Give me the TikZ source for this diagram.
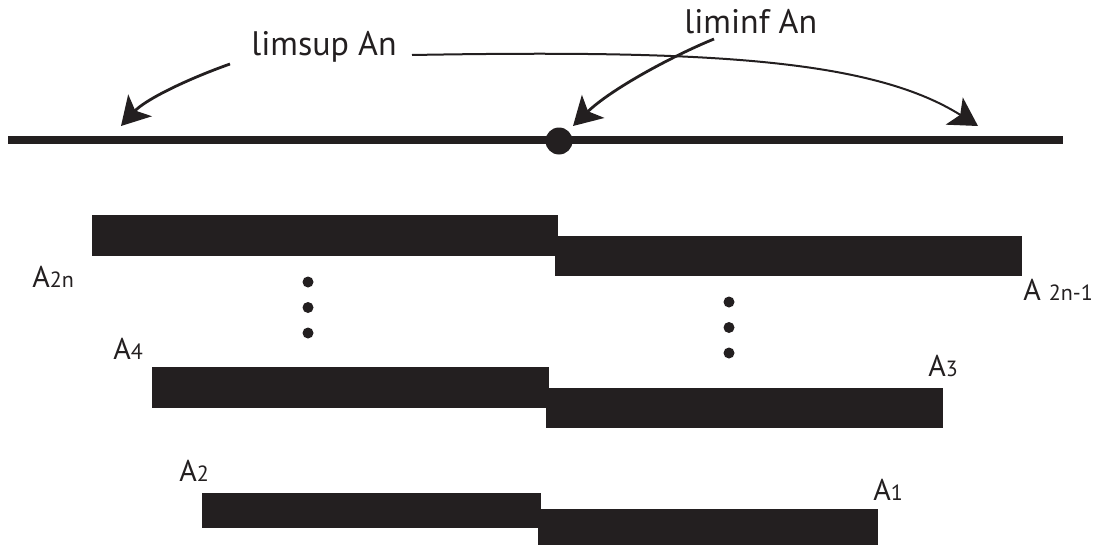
\documentclass[tikz,border=0pt]{standalone}
\usepackage{fontspec}
\setmainfont{PT Sans}
\usepackage{xcolor}
\usetikzlibrary{arrows.meta}
\definecolor{ink}{HTML}{231F20}
\newcommand\idx[1]{{\fontsize{11}{13}\selectfont #1}}

\begin{document}
\begin{tikzpicture}[x=0.5pt, y=-0.5pt,
    bar/.style={fill=ink},
    lbl/.style={inner sep=0pt, anchor=base west, text=ink, font=\fontsize{15}{18}\selectfont},
    lim/.style={inner sep=0pt, anchor=base west, text=ink, font=\fontsize{17}{20}\selectfont},
    pointer/.style={draw=ink, line width=1.4pt, -{Stealth[length=14pt, width=16pt, inset=3.5pt]}}]
    \useasboundingbox (0, 0) rectangle (1099, 546);

    % the line, with its middle point
    \coordinate (lineL) at (8, 140);
    \coordinate (lineR) at (1063, 140);
    \draw[ink, line width=4pt] (lineL) -- (lineR);
    \fill[ink] (559, 141) circle (13.5);

    \node[lim] (sup) at (251, 55) {limsup An};
    \node[lim] (inf) at (684, 33) {liminf An};

    \coordinate (supFrom) at (230, 64);
    \coordinate (supLeft) at (121, 126);
    \coordinate (supTail) at (412, 55);
    \coordinate (supRight) at (978, 126);
    \coordinate (infFrom) at (714, 39);
    \coordinate (infDot) at (573, 126);
    \draw[pointer] (supFrom) .. controls (185, 80) and (145, 100) .. (supLeft);
    \draw[pointer, line width=1pt] (supTail) .. controls (700, 50) and (870, 58) .. (supRight);
    \draw[pointer] (infFrom) .. controls (670, 57) and (610, 90) .. (infDot);

    % the sets
    \fill[bar] (92, 215) rectangle (558, 256);
    \fill[bar] (555, 236) rectangle (1022, 276);
    \fill[bar] (152, 367) rectangle (549, 408);
    \fill[bar] (546, 388) rectangle (943, 428);
    \fill[bar] (202, 493) rectangle (541, 528);
    \fill[bar] (538, 509) rectangle (878, 545);

    \foreach \dY in {0, 25.5, 51}
    {
        \fill[ink] (308, 282+\dY) circle (5.5);
        \fill[ink] (729, 302+\dY) circle (5.5);
    }

    \node[lbl] (a2n) at (32, 287) {A\idx{2n}};
    \node[lbl] (a2nOdd) at (1023, 300) {A \idx{2n-1}};
    \node[lbl] (a4) at (113, 359) {A\idx{4}};
    \node[lbl] (a3) at (928, 376) {A\idx{3}};
    \node[lbl] (a2) at (179, 481) {A\idx{2}};
    \node[lbl] (a1) at (873, 500) {A\idx{1}};
\end{tikzpicture}
\end{document}
